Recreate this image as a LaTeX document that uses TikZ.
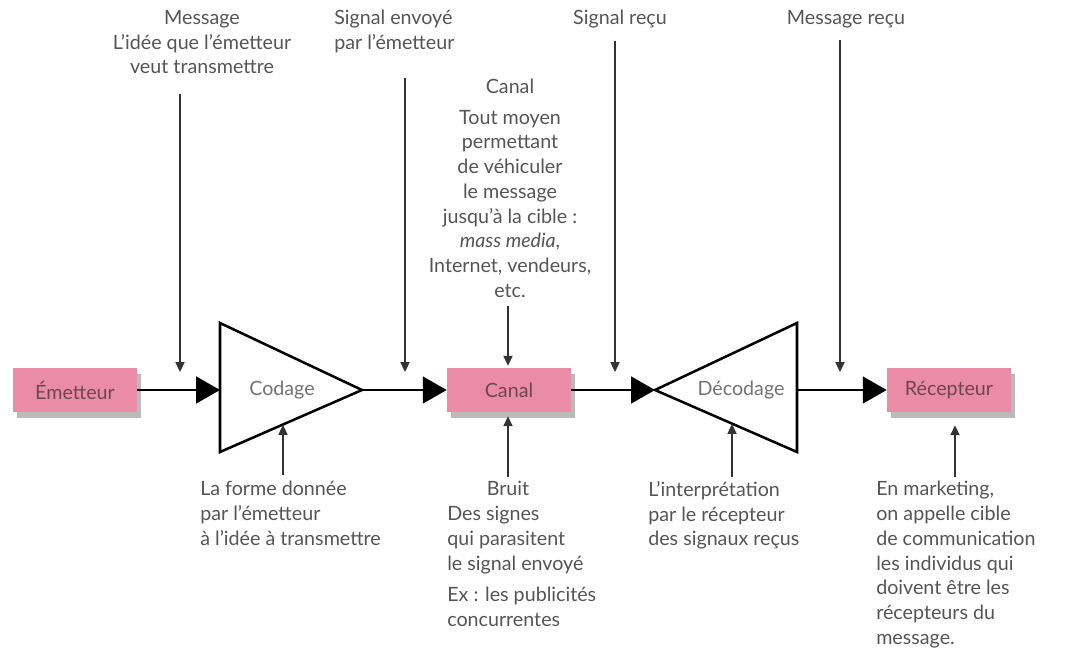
\documentclass[tikz,border=0pt]{standalone}
\usepackage{fontspec}
\setmainfont{Lato}
\usetikzlibrary{arrows.meta,calc,shadows}
\definecolor{rose}{RGB}{234,140,168}
\definecolor{txtgray}{RGB}{85,85,85}
\definecolor{boxtxt}{RGB}{110,70,82}
\begin{document}
\begin{tikzpicture}[x=0.025cm,y=-0.025cm,
    pinkbox/.style={fill=rose,text=boxtxt,minimum width=3.1cm,minimum height=1.1cm,inner sep=0pt,
      font=\fontsize{14}{16}\selectfont,
      drop shadow={shadow xshift=3pt,shadow yshift=-4pt,opacity=0.45,fill=black!60}},
    note/.style={text=txtgray,inner sep=0pt,font=\fontsize{14}{17.6}\selectfont},
    tritxt/.style={text=black!55,inner sep=0pt,font=\fontsize{14}{16}\selectfont},
    bigarrow/.style={line width=1.8pt,-{Triangle[length=17pt,width=19pt]}},
    smallarrow/.style={line width=0.9pt,draw=black!80,-{Triangle[length=7pt,width=6.5pt]}},
    tri/.style={line width=1.8pt,line join=miter}]
  \useasboundingbox (0,0) rectangle (1073,670);

  % boites
  \node[pinkbox] (emetteur) at (75,390) {Émetteur};
  \node[pinkbox] (canal) at (509,390) {Canal};
  \node[pinkbox] (recepteur) at (949,390) {Récepteur};

  % codage / decodage
  \coordinate (cod-t) at (220,323);
  \coordinate (cod-r) at (362,390);
  \coordinate (cod-b) at (220,452);
  \coordinate (cod-l) at (220,390);
  \draw[tri] (cod-t) -- (cod-r) -- (cod-b) -- cycle;
  \node[tritxt] (codage) at (282,390) {Codage};

  \coordinate (dec-t) at (797,323);
  \coordinate (dec-l) at (655,390);
  \coordinate (dec-b) at (797,452);
  \coordinate (dec-r) at (797,390);
  \draw[tri] (dec-t) -- (dec-l) -- (dec-b) -- cycle;
  \node[tritxt] (decodage) at (741,390) {Décodage};

  \draw[bigarrow] (emetteur) -- (cod-l);
  \draw[bigarrow] (cod-r) -- (canal);
  \draw[bigarrow] (canal) -- (dec-l);
  \draw[bigarrow] (dec-r) -- (recepteur);

  % textes du haut
  \node[note,align=center,anchor=north] (msg) at (202,10) {Message\\L’idée que l’émetteur\\veut transmettre};
  \node[note,align=left,anchor=north west] (sigenv) at (334,10) {Signal envoyé\\par l’émetteur};
  \node[note,align=center,anchor=north] (canaltxt) at (510,79) {Canal\\[4pt]Tout moyen\\permettant\\de véhiculer\\le message\\jusqu’à la cible :\\\textit{mass media},\\Internet, vendeurs,\\etc.};
  \node[note,anchor=north] (sigrecu) at (620,10) {Signal reçu};
  \node[note,anchor=north] (msgrecu) at (846,10) {Message reçu};

  \coordinate (msg-in) at (180,372);
  \coordinate (sigenv-in) at (405,372);
  \coordinate (sigrecu-in) at (615,372);
  \coordinate (msgrecu-in) at (840,372);
  \draw[smallarrow] ($(msg.south -| msg-in)+(0,20)$) -- (msg-in);
  \draw[smallarrow] ($(sigenv.south -| sigenv-in)+(0,25)$) -- (sigenv-in);
  \draw[smallarrow] ($(sigrecu.south -| sigrecu-in)+(0,12)$) -- (sigrecu-in);
  \draw[smallarrow] ($(msgrecu.south -| msgrecu-in)+(0,12)$) -- (msgrecu-in);
  \draw[smallarrow] ($(canaltxt.south)+(-2,8)$) -- ($(canal.north)+(-1,-2)$);

  % textes du bas
  \node[note,align=left,anchor=north west] (forme) at (200,481) {La forme donnée\\par l’émetteur\\à l’idée à transmettre};
  \node[note,anchor=north] (bruit) at (508,481) {Bruit};
  \node[note,align=left,anchor=north west] (bruittxt) at (447,506) {Des signes\\qui parasitent\\le signal envoyé\\[5pt]Ex : les publicités\\concurrentes};
  \node[note,align=left,anchor=north west] (interp) at (648,481) {L’interprétation\\par le récepteur\\des signaux reçus};
  \node[note,align=left,anchor=north west] (cible) at (876,481) {En marketing,\\on appelle cible\\de communication\\les individus qui\\doivent être les\\récepteurs du\\message.};

  \draw[smallarrow] ($(forme.north west)+(83,-6)$) -- (283,425);
  \draw[smallarrow] ($(bruit.north)+(0,-4)$) -- ($(canal.south)+(-1,4)$);
  \draw[smallarrow] ($(interp.north west)+(84,-4)$) -- (732,424);
  \draw[smallarrow] ($(cible.north west)+(79,-4)$) -- ($(recepteur.south)+(6,13)$);
\end{tikzpicture}
\end{document}
